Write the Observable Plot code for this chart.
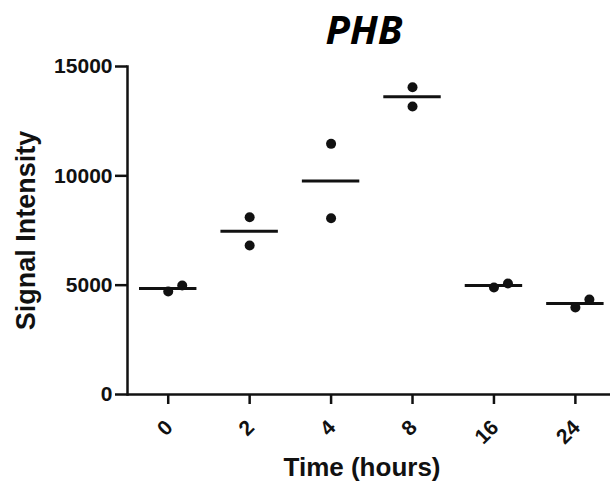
<!DOCTYPE html>
<html>
<head>
<meta charset="utf-8">
<script src="https://cdn.jsdelivr.net/npm/d3@7"></script>
<script src="https://cdn.jsdelivr.net/npm/@observablehq/plot@0.6"></script>
<style>
  html, body { margin: 0; padding: 0; background: #fff; }
</style>
</head>
<body>
<div id="chart"></div>
<script>
const title = "PHB";
const times = ["0", "2", "4", "8", "16", "24"];
const rep1 = [4710, 6814, 8062, 13170, 4893, 3979];
const rep2 = [4985, 8108, 11463, 14054, 5076, 4344];
const yTicks = [0, 5000, 10000, 15000];
const xLabel = "Time (hours)";
const yLabel = "Signal Intensity";

const data = times.flatMap((t, i) => [
  {time: t, rep: 1, value: rep1[i]},
  {time: t, rep: 2, value: rep2[i]}
]);

// GraphPad-style nudge: when the two replicate dots overlap, the higher one is moved right
const dotOverlap = 10 * 15000 / 328;
const byTime = d3.group(data, d => d.time);
const shifted = d => {
  const g = byTime.get(d.time);
  const other = g.find(e => e !== d);
  return Math.abs(other.value - d.value) < dotOverlap && d.value > other.value;
};

const font = "'Liberation Sans', Arial, sans-serif";
const ink = "#111";

const chart = Plot.plot({
  width: 610,
  height: 483,
  marginLeft: 127,
  marginRight: 0,
  marginTop: 66,
  marginBottom: 89,
  style: {fontFamily: font, color: ink, background: "#fff"},
  x: {type: "band", domain: times, range: [127, 615.6], padding: 0, round: false, axis: null, label: null},
  y: {domain: [0, 15000], axis: null, label: null},
  marks: [
    Plot.frame({anchor: "left", stroke: ink, strokeWidth: 2.5}),
    Plot.ruleY([0], {stroke: ink, strokeWidth: 2.5}),
    Plot.axisY({ticks: yTicks, tickFormat: "d", tickSize: 12, tickPadding: 3, label: null,
      fontSize: 21, fontWeight: "bold", strokeWidth: 2.5, stroke: ink, fill: ink}),
    Plot.axisX({tickSize: 10, tickFormat: () => "", label: null, strokeWidth: 2.5, stroke: ink}),
    Plot.text(times, {x: d => d, text: d => d, frameAnchor: "bottom", dy: 29.5, dx: 1,
      rotate: -45, textAnchor: "end", lineAnchor: "middle", fontSize: 21, fontWeight: "bold", fill: ink}),
    Plot.tickY(data, Plot.groupX({y: "mean"}, {x: "time", y: "value",
      insetLeft: 12, insetRight: 12, strokeWidth: 3, stroke: ink})),
    Plot.dot(data, {filter: d => !shifted(d), x: "time", y: "value", r: 5, fill: ink, stroke: null}),
    Plot.dot(data, {filter: shifted, x: "time", y: "value", r: 5, dx: 14, fill: ink, stroke: null}),
    Plot.text([yLabel], {text: d => d, frameAnchor: "left", dx: -101, rotate: -90,
      textAnchor: "middle", lineAnchor: "middle", fontSize: 27, fontWeight: "bold", fill: ink}),
    Plot.text([xLabel], {text: d => d, frameAnchor: "bottom", dy: 73, dx: -7,
      textAnchor: "middle", lineAnchor: "middle", fontSize: 26, fontWeight: "bold", fill: ink}),
    Plot.text([title], {text: d => d, frameAnchor: "top", dy: -35, dx: -5,
      textAnchor: "middle", lineAnchor: "middle", fontSize: 40, fontWeight: "bold", fontStyle: "italic",
      fontFamily: "'Open Sans', sans-serif", fill: "#000"})
  ]
});
document.getElementById("chart").append(chart);
</script>
</body>
</html>
